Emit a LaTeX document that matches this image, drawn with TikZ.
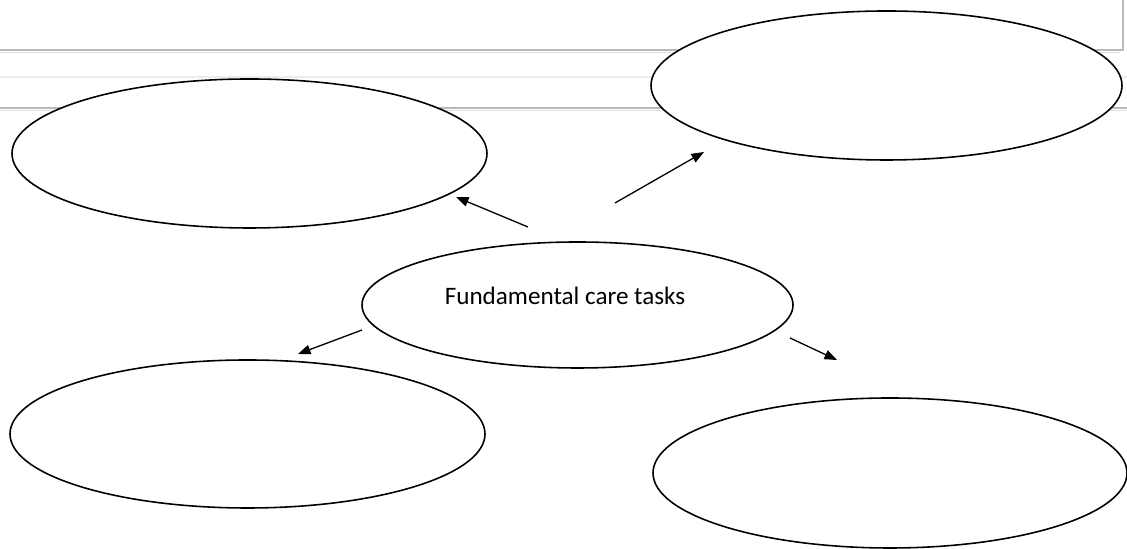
\documentclass[tikz,border=0pt]{standalone}
\usepackage{fontspec}
\setmainfont{Carlito}
\usetikzlibrary{arrows.meta,positioning,shapes.geometric}
\begin{document}
\begin{tikzpicture}[
    every node/.style={font=\fontsize{14.3}{17}\selectfont},
    burbuja/.style={draw, ellipse, fill=white, line width=0.9pt, inner sep=0pt, outer sep=0pt, minimum width=9.5cm, minimum height=2.98cm},
    flecha/.style={-{Triangle[length=0.25cm, width=0.19cm]}, line width=0.75pt},
    marco/.style={gray!55, line width=0.8pt}
]
% Fondo
\useasboundingbox[fill=white] (0,0) rectangle (22.54,10.98);
% Lineas de ventana
\draw[marco] (0,9.98) -- (22.46,9.98) -- (22.46,10.98);
\draw[gray!25, line width=0.6pt] (0,9.93) -- (22.40,9.93);
\draw[gray!15, line width=0.6pt] (0,9.44) -- (22.54,9.44);
\draw[marco] (0,8.82) -- (22.54,8.82);
\draw[gray!25, line width=0.6pt] (0,8.77) -- (22.54,8.77);
% Burbujas
\node[burbuja] (arribaIzq) at (4.99,7.91) {};
\node[burbuja, minimum width=9.42cm] (arribaDer) at (17.73,9.27) {};
\node[burbuja, minimum width=8.62cm, minimum height=2.52cm] (centro) at (11.55,4.88) {};
\node[burbuja, minimum height=2.96cm] (abajoIzq) at (4.95,2.30) {};
\node[burbuja, minimum width=9.48cm, minimum height=3.0cm] (abajoDer) at (17.8,1.52) {};
% Texto central
\node (tareas) at (11.30,5.06) {Fundamental care tasks};
% Extremos de flechas
\coordinate (salidaAI) at (10.56,6.44);
\coordinate (puntaAI) at (9.12,7.04);
\coordinate (salidaAD) at (12.30,6.92);
\coordinate (puntaAD) at (14.08,7.94);
\coordinate (salidaBI) at (7.24,4.38);
\coordinate (puntaBI) at (5.96,3.90);
\coordinate (salidaBD) at (15.80,4.22);
\coordinate (puntaBD) at (16.74,3.78);
% Flechas
\draw[flecha] (salidaAI) -- (puntaAI);
\draw[flecha] (salidaAD) -- (puntaAD);
\draw[flecha] (salidaBI) -- (puntaBI);
\draw[flecha] (salidaBD) -- (puntaBD);
\end{tikzpicture}
\end{document}
